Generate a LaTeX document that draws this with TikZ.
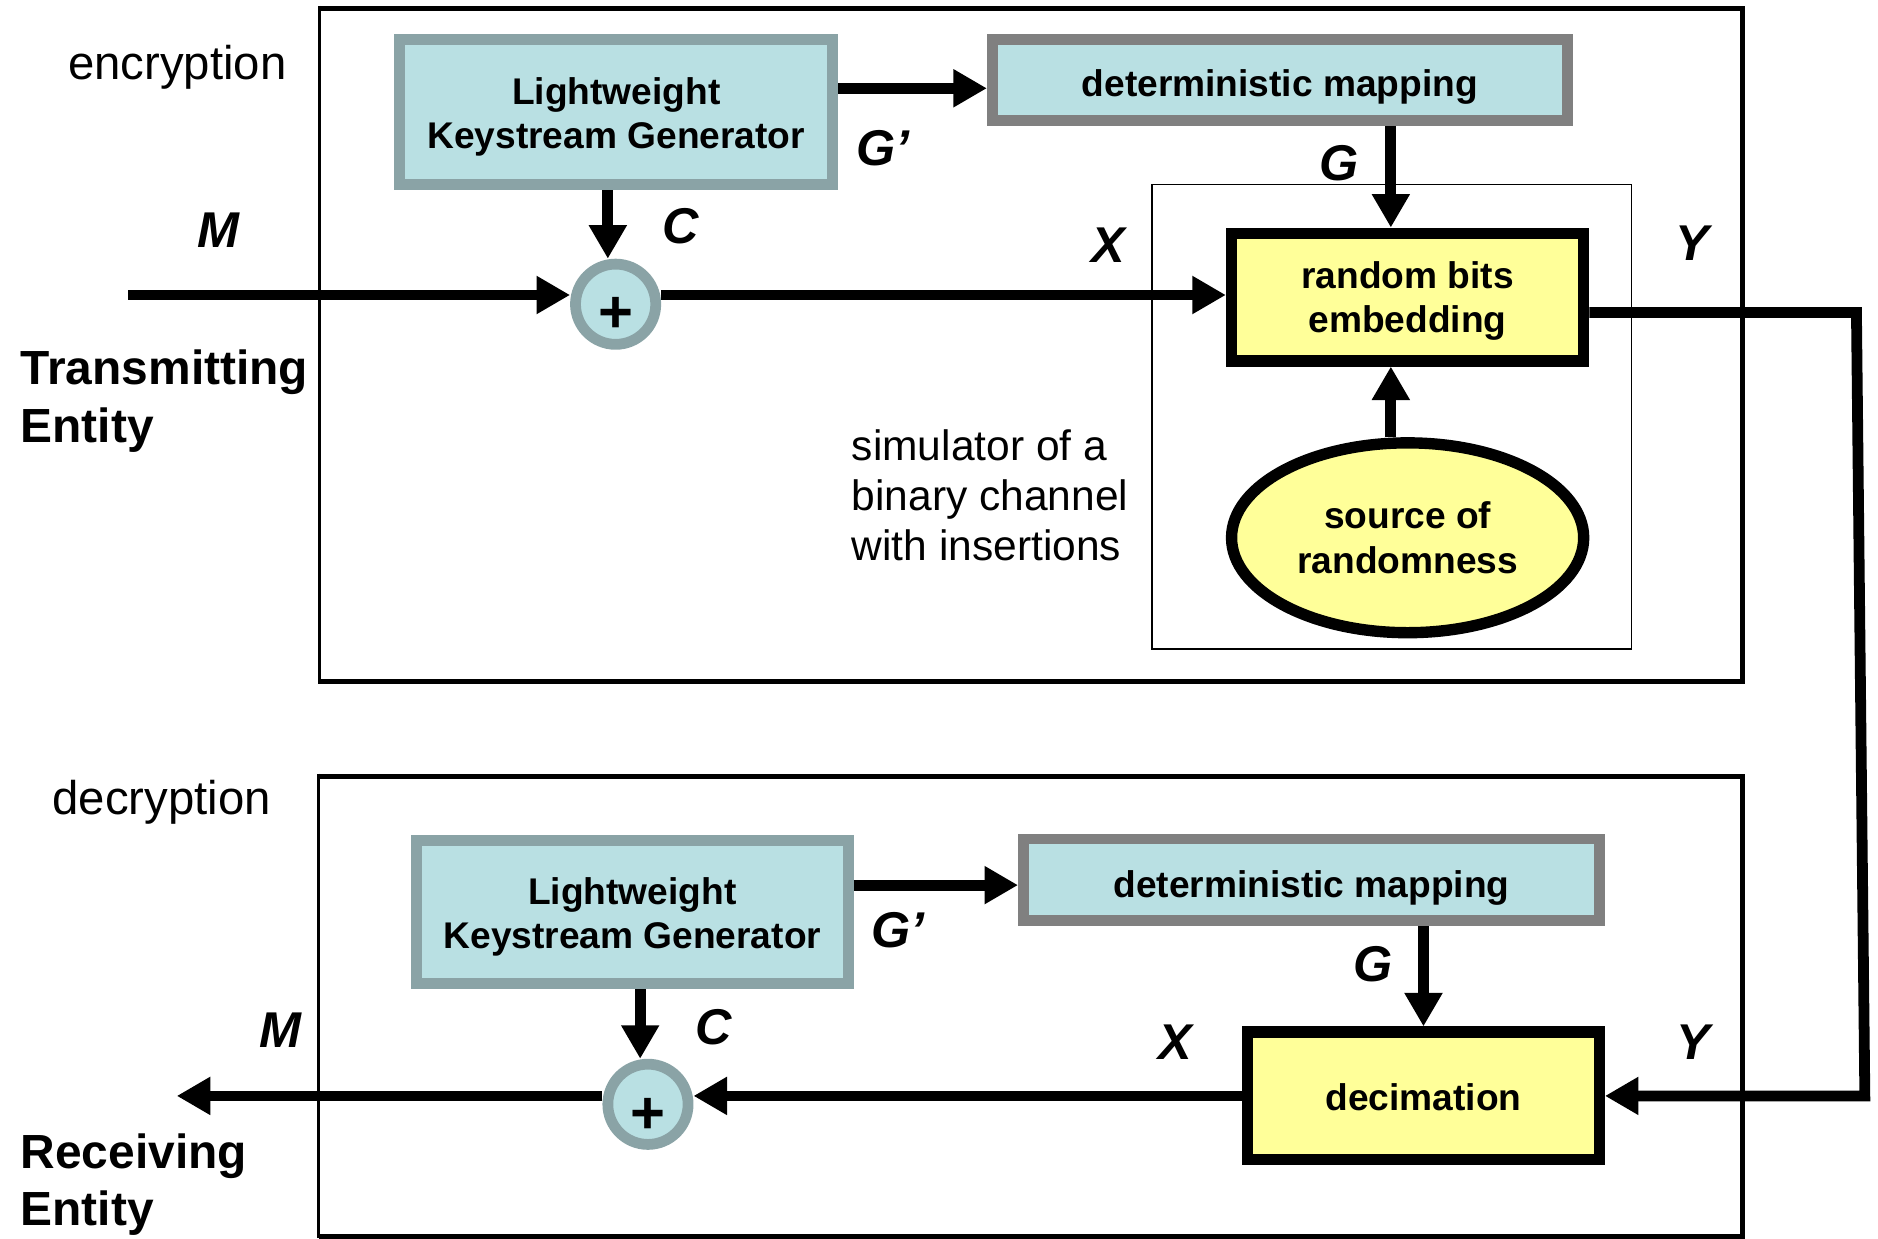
\documentclass[tikz,border=0pt]{standalone}
\usepackage{fontspec}
\setmainfont{Liberation Sans}
\usetikzlibrary{arrows.meta,shapes.geometric}
\definecolor{cyanfill}{RGB}{185,224,227}
\definecolor{tealedge}{RGB}{138,163,166}
\definecolor{grayedge}{RGB}{128,128,128}
\definecolor{yellowfill}{RGB}{255,255,153}
\newcommand\mystrut[1]{\rule{0pt}{#1}}
\newcommand\xorplus{\raisebox{-24pt}[0pt][0pt]{+}}
\tikzset{
  boxtext/.style={font=\fontsize{31}{37}\selectfont\bfseries, align=center, inner sep=0pt},
  kgbox/.style={boxtext, draw=tealedge, fill=cyanfill, line width=9.5pt},
  dmbox/.style={boxtext, draw=grayedge, fill=cyanfill, line width=9pt},
  ybox/.style={boxtext, draw=black, fill=yellowfill, line width=9.5pt},
  xorc/.style={circle, draw=tealedge, fill=cyanfill, line width=9pt, minimum size=67pt, inner sep=0pt,
    font=\fontsize{50}{50}\selectfont\bfseries},
  arr/.style={line width=9pt, -{Triangle[length=28pt,width=30pt]}},
  lbl/.style={font=\fontsize{42}{42}\selectfont\bfseries\itshape, inner sep=0pt},
  frame/.style={line width=4pt},
  frameleft/.style={line width=2.5pt},
  entity/.style={font=\fontsize{40}{48}\selectfont\bfseries, align=left, inner sep=0pt, anchor=west},
  phase/.style={font=\fontsize{39.5}{47}\selectfont, inner sep=0pt, anchor=base},
}
\begin{document}
\begin{tikzpicture}[x=1pt,y=-1pt]
\useasboundingbox (0,0) rectangle (1568,1034);
% frames
\draw[frame] (267,7) -- (1455,7) -- (1455,569) -- (267,569);
\draw[frameleft] (267,5) -- (267,571);
\draw[frame] (266,648) -- (1455,648) -- (1455,1032.5) -- (266,1032.5);
\draw[frameleft] (266,646) -- (266,1034);
\draw[line width=1.2pt] (962,154) rectangle (1362,542);

% ---------- encryption ----------
\node[kgbox, minimum width=361.5pt, minimum height=121.5pt] (kg1) at (514.5,93.5) {\mystrut{31pt}Lightweight\\Keystream Generator};
\node[dmbox, minimum width=480pt, minimum height=67.5pt] (dm1) at (1068.5,66.75) {\mystrut{34pt}deterministic mapping};
\node[ybox, minimum width=294pt, minimum height=106.5pt] (rbe) at (1175.25,248) {\mystrut{29pt}random bits\\embedding};
\node[ybox, ellipse, minimum width=294pt, minimum height=158.5pt] (src) at (1175.25,449) {source of\\randomness};
\node[xorc] (xor1) at (514,254) {\xorplus};

\coordinate (Min) at (107,246.3);
\draw[arr] (Min) -- (Min -| xor1.west);
\draw[arr] (xor1.east |- Min) -- (Min -| rbe.west);
\draw[arr] ([yshift=19.8pt]kg1.east) coordinate (a1) -- (a1 -| dm1.west);
\draw[arr] ([xshift=-7pt]kg1.south) coordinate (b1) -- (b1 |- xor1.north);
\path ([xshift=-14pt]rbe.north) coordinate (rbeN);
\draw[arr] (rbeN |- dm1.south) -- (rbeN);
\draw[arr] (rbeN |- src.north) -- (rbeN |- rbe.south);

% ---------- decryption ----------
\node[kgbox, minimum width=360.5pt, minimum height=119.5pt] (kg2) at (528,761.5) {\mystrut{31pt}Lightweight\\Keystream Generator};
\node[dmbox, minimum width=481pt, minimum height=68pt] (dm2) at (1095,734.5) {\mystrut{36pt}deterministic mapping};
\node[ybox, minimum width=293.5pt, minimum height=106.5pt] (dec) at (1188.5,915) {\mystrut{25pt}decimation};
\node[xorc] (xor2) at (541,922) {\xorplus};

\coordinate (Mout) at (147.6,915);
\draw[arr] ([yshift=22.5pt]kg2.east) coordinate (a2) -- (a2 -| dm2.west);
\draw[arr] ([xshift=6.5pt]kg2.south) coordinate (b2) -- (b2 |- xor2.north);
\draw[arr] (dec.north |- dm2.south) -- (dec.north);
\draw[arr] (dec.west) -- (dec.west -| xor2.east);
\draw[arr] (xor2.west |- Mout) -- (Mout);

% channel Y
\coordinate (ytop) at (1550,261);
\coordinate (ybot) at (1557,915);
\draw[arr, line join=miter] ([yshift=-13pt]rbe.east) -- (ytop) -- (ybot) -- (ybot -| dec.east);

% labels
\node[phase] (enc) at (148,66) {encryption};
\node[phase] (decl) at (135,680) {decryption};
\node[entity] (tx) at (17,335) {Transmitting\\Entity};
\node[entity] (rx) at (17,989) {Receiving\\Entity};
\node[font=\fontsize{35.5}{42}\selectfont, align=left, inner sep=0pt, anchor=west] (sim) at (711,413.5)
  {simulator of a\\binary channel\\with insertions};

\node[lbl] (lM1) at (182,192) {M};
\node[lbl] (lC1) at (568,189) {C};
\node[lbl] (lG1p) at (737,124) {G’};
\node[lbl] (lX1) at (925,205) {X};
\node[lbl] (lG1) at (1118,136) {G};
\node[lbl] (lY1) at (1413,203) {Y};

\node[lbl] (lM2) at (234,860) {M};
\node[lbl] (lC2) at (596,858) {C};
\node[lbl] (lG2p) at (750,777) {G’};
\node[lbl] (lG2) at (1146,805) {G};
\node[lbl] (lX2) at (981,870) {X};
\node[lbl] (lY2) at (1414,870) {Y};
\end{tikzpicture}
\end{document}
